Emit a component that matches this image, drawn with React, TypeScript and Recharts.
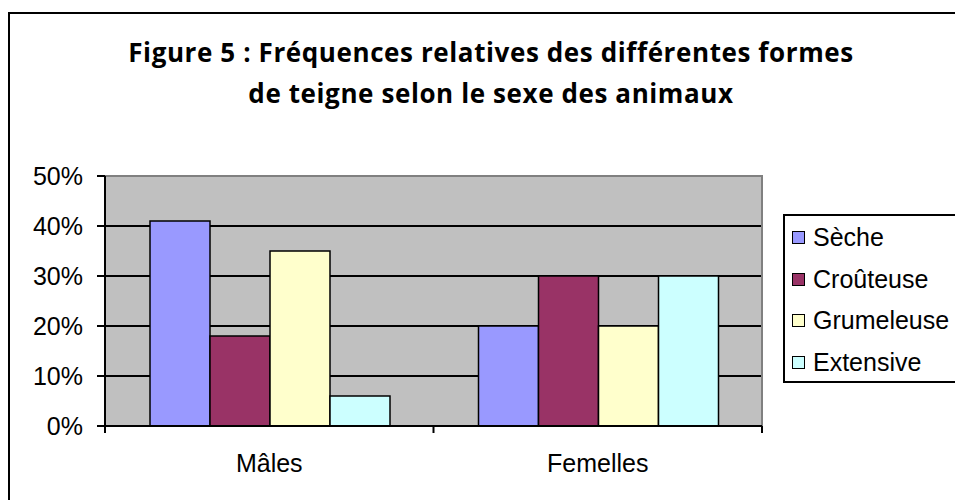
import { BarChart, Bar, XAxis, YAxis, CartesianGrid, Legend, ReferenceArea } from "recharts";

const categories = ["Mâles", "Femelles"];
const seriesNames = ["Sèche", "Croûteuse", "Grumeleuse", "Extensive"];
const seriesColors = ["#9999FF", "#993366", "#FFFFCC", "#CCFFFF"];
const seche = [0.41, 0.2];
const crouteuse = [0.18, 0.3];
const grumeleuse = [0.35, 0.2];
const extensive = [0.06, 0.3];
const yTicks = [0, 0.1, 0.2, 0.3, 0.4, 0.5];
const titleLines = [
  "Figure 5 : Fréquences relatives des différentes formes",
  "de teigne selon le sexe des animaux",
];

const seriesValues = [seche, crouteuse, grumeleuse, extensive];
const data = categories.map((name, i) => {
  const row: Record<string, string | number> = { name };
  seriesValues.forEach((vals, s) => {
    row["s" + s] = vals[i];
  });
  return row;
});

const W = 955;
const H = 500;
const margin = { top: 176, right: 193, bottom: 0, left: 0 };
const Y_W = 105;
const X_H = 74;
const BAND = (W - margin.left - margin.right - Y_W) / categories.length;
const AXIS_FONT = "'Liberation Sans', Arial, sans-serif";
const AXIS_SIZE = 25;

const pct = (v: number) => `${Math.round(v * 100)}%`;

function XTick(props: any) {
  const { x, y, payload, index } = props;
  const half = BAND / 2;
  return (
    <g>
      <line x1={x - half} x2={x - half} y1={y} y2={y + 7} stroke="#000" strokeWidth={2} />
      {index === categories.length - 1 && (
        <line x1={x + half} x2={x + half} y1={y} y2={y + 7} stroke="#000" strokeWidth={2} />
      )}
      <text x={x} y={y + 46} textAnchor="middle" fontFamily={AXIS_FONT} fontSize={AXIS_SIZE} fill="#000">
        {payload.value}
      </text>
    </g>
  );
}

function LegendBox({ payload }: any) {
  // keep the series order, not the alphabetical one
  const items = [...(payload || [])].sort(
    (a: any, b: any) => seriesNames.indexOf(a.value) - seriesNames.indexOf(b.value)
  );
  return (
    <div
      style={{
        border: "2px solid #000",
        height: 169,
        boxSizing: "border-box",
        background: "#fff",
        paddingTop: 1,
        fontFamily: AXIS_FONT,
        fontSize: AXIS_SIZE,
        color: "#000",
      }}
    >
      {items.map((p: any) => (
        <div key={p.value} style={{ display: "flex", alignItems: "center", height: 41.5 }}>
          <span
            style={{
              display: "inline-block",
              width: 11,
              height: 11,
              border: "1px solid #000",
              background: p.color,
              marginLeft: 7,
              marginRight: 8,
            }}
          />
          <span style={{ whiteSpace: "nowrap" }}>{p.value}</span>
        </div>
      ))}
    </div>
  );
}

export default function App() {
  return (
    <div style={{ position: "absolute", left: 0, top: 0, width: W, height: H, overflow: "hidden", background: "#fff" }}>
      <div
        style={{
          position: "absolute",
          left: 8,
          top: 12,
          width: 1000,
          height: 600,
          borderLeft: "2px solid #000",
          borderTop: "2px solid #000",
        }}
      />
      <svg style={{ position: "absolute", left: 0, top: 0 }} width={W} height={130}>
        {titleLines.map((t, i) => (
          <text
            key={i}
            x={491}
            y={62 + i * 41}
            textAnchor="middle"
            fontFamily="'Open Sans', 'Noto Sans', sans-serif"
            fontWeight="bold"
            fontSize={26}
            letterSpacing={0.6}
            fill="#000"
          >
            {t}
          </text>
        ))}
      </svg>
      <div style={{ position: "absolute", left: 0, top: 0 }}>
        <BarChart width={W} height={H} data={data} margin={margin} barGap={0} barCategoryGap={45}>
          <CartesianGrid
            vertical={false}
            horizontalValues={[0.1, 0.2, 0.3, 0.4]}
            stroke="#000"
            strokeWidth={2}
            fill="#C0C0C0"
            fillOpacity={1}
          />
          <ReferenceArea y1={0} y2={0.5} fill="none" stroke="#808080" strokeWidth={2} ifOverflow="visible" />
          <XAxis
            dataKey="name"
            height={X_H}
            axisLine={{ stroke: "#000", strokeWidth: 2 }}
            tickLine={false}
            tickSize={0}
            tickMargin={0}
            tick={<XTick />}
            interval={0}
          />
          <YAxis
            width={Y_W}
            domain={[0, 0.5]}
            ticks={yTicks}
            tickFormatter={pct}
            axisLine={{ stroke: "#000", strokeWidth: 2 }}
            tickLine={{ stroke: "#000", strokeWidth: 2 }}
            tickSize={8}
            tickMargin={14}
            tick={{ fontFamily: AXIS_FONT, fontSize: AXIS_SIZE, fill: "#000" }}
          />
          <Legend
            layout="horizontal"
            align="center"
            verticalAlign="middle"
            itemSorter={null}
            content={<LegendBox />}
            wrapperStyle={{ left: 783, top: 214, width: 190 }}
          />
          {seriesNames.map((n, s) => (
            <Bar
              key={n}
              dataKey={"s" + s}
              name={n}
              fill={seriesColors[s]}
              stroke="#000"
              strokeWidth={1.5}
              isAnimationActive={false}
            />
          ))}
        </BarChart>
      </div>
    </div>
  );
}
